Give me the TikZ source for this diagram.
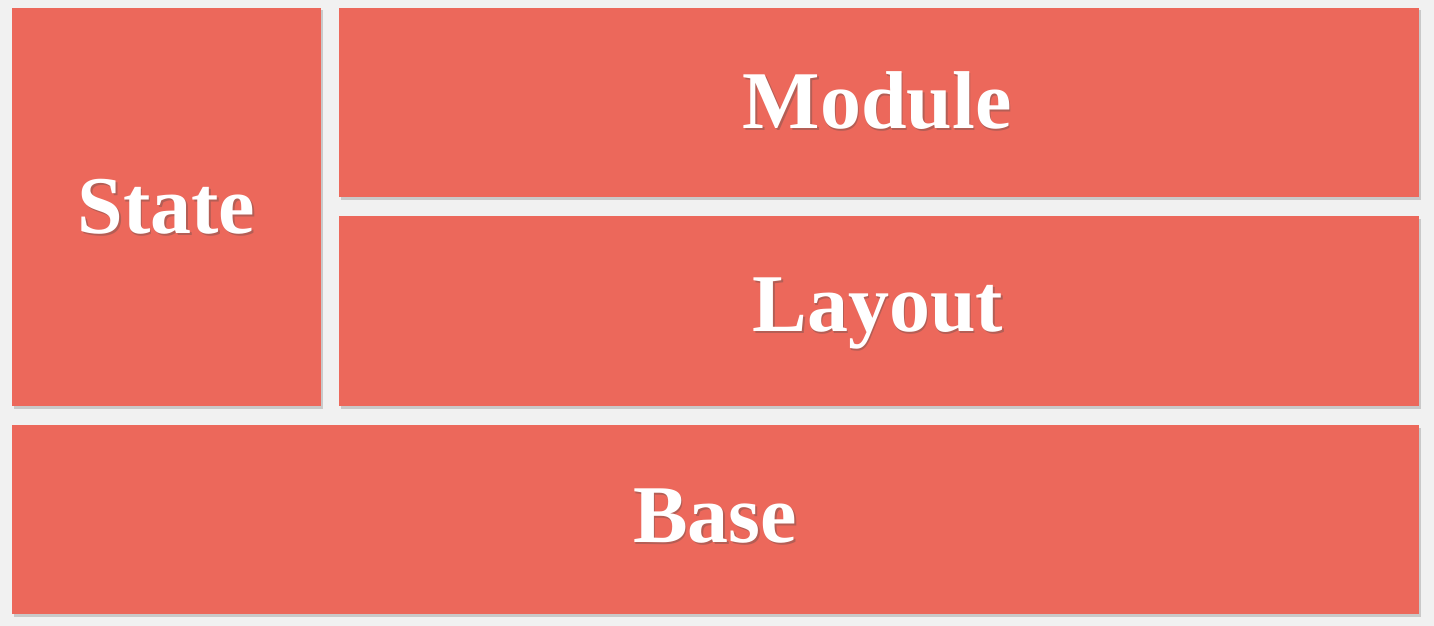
\documentclass[tikz,border=0pt]{standalone}
\usepackage{fontspec}
\setmainfont{Liberation Serif}
\usetikzlibrary{shadows}
\definecolor{boxred}{HTML}{EC685B}
\definecolor{bg}{HTML}{F1F1F1}
\tikzset{
  layerbox/.style={fill=boxred, draw=none, inner sep=0pt, drop shadow={opacity=0.35, shadow xshift=1.5pt, shadow yshift=-2.5pt}},
  lbl/.style={text=white, font=\fontsize{82}{86}\selectfont\bfseries, inner sep=0pt, anchor=base},
  lblshadow/.style={text=black!70, opacity=0.35, font=\fontsize{82}{86}\selectfont\bfseries, inner sep=0pt, anchor=base}
}
\newcommand{\layerlabel}[3]{%
  \node[lblshadow] at ([xshift=1.5pt,yshift=-2.5pt]#1) {#3};
  \node[lbl] (#2) at (#1) {#3};}
\begin{document}
\begin{tikzpicture}[x=1pt,y=-1pt]
\fill[bg] (0,0) rectangle (1434,626);
\useasboundingbox (0,0) rectangle (1434,626);
\path[layerbox] (12,8) rectangle (321,406);
\path[layerbox] (339,8) rectangle (1419,197);
\path[layerbox] (339,216) rectangle (1419,406);
\path[layerbox] (12,425) rectangle (1419,614);
\coordinate (cState) at (166.5,233);
\coordinate (cModule) at (877,128);
\coordinate (cLayout) at (878,331);
\coordinate (cBase) at (715,542);
\layerlabel{cState}{state}{State}
\layerlabel{cModule}{module}{Module}
\layerlabel{cLayout}{layout}{Layout}
\layerlabel{cBase}{base}{Base}
\end{tikzpicture}
\end{document}
